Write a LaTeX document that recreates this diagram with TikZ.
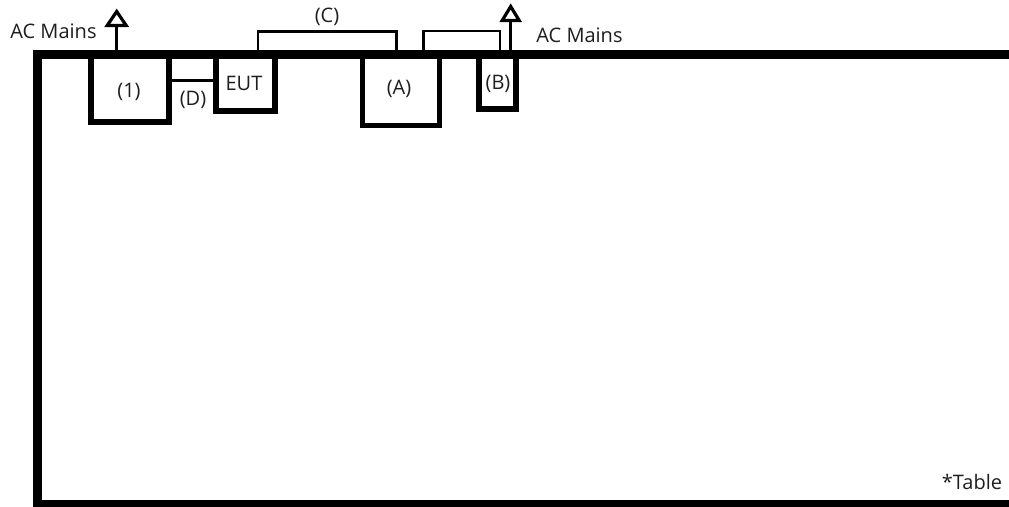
\documentclass[tikz,border=0pt]{standalone}
\usepackage{fontspec}
\setmainfont{Open Sans}
\definecolor{txt}{RGB}{30,30,30}
\begin{document}
\begin{tikzpicture}[x=1pt,y=-1pt,
  every node/.style={font=\fontsize{20}{22}\selectfont, text=txt},
  dev/.style={draw, line width=6pt, minimum width=#1, inner sep=0pt, outer sep=0pt},
  cable/.style={line width=2.8pt, line join=miter},
  tablepath/.style={line width=9pt, line join=miter},
  stem/.style={line width=3.5pt},
  head/.style={line width=3.2pt, line join=miter}
]
\useasboundingbox (0,0) rectangle (1009,506);
\clip (0,0) rectangle (1009,506);
% devices
\node[dev=77.4pt, minimum height=67.5pt] (b1) at (130,88.25) {};
\node at (129,92) {(1)};
\node[dev=59pt, minimum height=56.5pt] (eut) at (245.8,82.75) {};
\node at (244,83) {EUT};
\node[dev=77pt, minimum height=71pt, line width=5.5pt] (bA) at (401,90) {};
\node at (399,89) {(A)};
\node[dev=37.5pt, minimum height=54.5pt] (bB) at (497.5,81.75) {};
\node at (498,84) {(B)};
% table
\draw[tablepath] (1020,54.5) -- (37,54.5) -- (37,504.5) -- (1020,504.5);
% cables
\coordinate (Dy) at (0,80.7);
\draw[cable] (b1.east |- Dy) -- (eut.west |- Dy);
\node (lD) at (193,100) {(D)};
\draw[cable] ([xshift=12.2pt]eut.north) -- ++(0,-23) -| ([xshift=-4.3pt]bA.north);
\node (lC) at (327,17) {(C)};
\draw[cable] ([xshift=22.3pt]bA.north) -- ++(0,-23.5) -| ([xshift=2.5pt]bB.north);
% AC mains arrows
\draw[stem] ([xshift=-13.3pt]b1.north) -- ++(0,-29) coordinate (aL);
\draw[head, fill=white] ([xshift=-9.5pt]aL) -- ([yshift=14pt]aL) -- ([xshift=9.5pt]aL) -- cycle;
\draw[stem] ([xshift=13.2pt]bB.north) -- ++(0,-34) coordinate (aR);
\draw[head, fill=white] ([xshift=-8.5pt]aR) -- ([yshift=14pt]aR) -- ([xshift=8.5pt]aR) -- cycle;
\node (acL) at (53.5,31) {AC Mains};
\node (acR) at (579.5,35) {AC Mains};
\node (tbl) at (972,482) {*Table};
\end{tikzpicture}
\end{document}
